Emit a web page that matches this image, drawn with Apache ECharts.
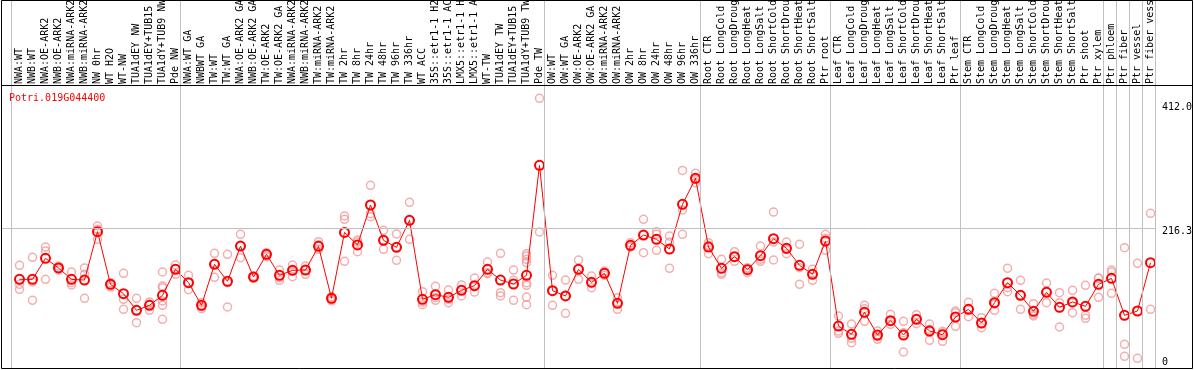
<!DOCTYPE html>
<html>
<head>
<meta charset="utf-8">
<script src="https://cdn.jsdelivr.net/npm/echarts@6/dist/echarts.min.js"></script>
<style>html,body{margin:0;padding:0;background:#fff}#c{width:1194px;height:370px}</style>
</head>
<body>
<div id="c"></div>
<script>
// ---------- data ----------
const geneId = 'Potri.019G044400';

const categories = [
  'NWA:WT','NWB:WT','NWA:OE-ARK2','NWB:OE-ARK2','NWA:miRNA-ARK2','NWB:miRNA-ARK2','NW 0hr','WT H2O','WT-NW','TUA1dEY NW','TUA1dEY+TUB15 NW','TUA1dY+TUB9 NW','Pde NW',
  'NWA:WT GA','NWBWT GA','TW:WT','TW:WT GA','NWA:OE-ARK2 GA','NWB:OE-ARK2 GA','TW:OE-ARK2','TW:OE-ARK2 GA','NWA:miRNA-ARK2 GA','NWB:miRNA-ARK2 GA','TW:miRNA-ARK2','TW:miRNA-ARK2 GA','TW 2hr','TW 8hr','TW 24hr','TW 48hr','TW 96hr','TW 336hr','WT ACC','35S::etr1-1 H2O','35S::etr1-1 ACC','LMX5::etr1-1 H2O','LMX5::etr1-1 ACC','WT-TW','TUA1dEY TW','TUA1dEY+TUB15 TW','TUA1dY+TUB9 TW','Pde TW',
  'OW:WT','OW:WT GA','OW:OE-ARK2','OW:OE-ARK2 GA','OW:miRNA-ARK2','OW:miRNA-ARK2 GA','OW 2hr','OW 8hr','OW 24hr','OW 48hr','OW 96hr','OW 336hr',
  'Root CTR','Root LongCold','Root LongDrought','Root LongHeat','Root LongSalt','Root ShortCold','Root ShortDrought','Root ShortHeat','Root ShortSalt','Ptr root',
  'Leaf CTR','Leaf LongCold','Leaf LongDrought','Leaf LongHeat','Leaf LongSalt','Leaf ShortCold','Leaf ShortDrought','Leaf ShortHeat','Leaf ShortSalt','Ptr leaf',
  'Stem CTR','Stem LongCold','Stem LongDrought','Stem LongHeat','Stem LongSalt','Stem ShortCold','Stem ShortDrought','Stem ShortHeat','Stem ShortSalt','Ptr shoot','Ptr xylem',
  'Ptr phloem','Ptr fiber','Ptr vessel','Ptr fiber vessel'
];

// number of categories in each separated group
const groupSizes = [13, 28, 12, 10, 10, 11, 1, 1, 1, 1];

// mean expression per category
const means = [
  133.7,133.7,167.7,152.1,133.7,132.6,210.8,125.6,110.5,83.6,
  91.7,107.8,149.9,128.3,91.7,158.0,130.5,187.6,137.5,174.2,
  140.2,148.3,148.8,187.1,103.0,209.7,189.3,254.0,196.8,185.5,
  229.2,101.4,108.9,104.6,115.9,123.5,149.9,132.6,126.2,140.2,
  318.1,115.4,106.8,149.9,128.9,143.4,94.9,188.7,205.4,198.4,
  182.8,255.0,297.1,186.0,151.5,170.4,149.4,172.0,199.5,183.9,
  156.4,141.8,195.7,58.2,44.8,80.3,43.7,66.9,43.7,69.0,
  50.1,44.2,72.8,85.2,63.1,96.0,128.3,107.8,82.0,112.7,
  88.4,97.1,90.0,125.6,135.3,75.5,82.5,160.7
];

// replicate values per category
const replicates = [
  [156.4,125.6,117.5],[169.3,129.4,99.8],[186.0,179.6,133.7],[155.3,152.1,148.8],[145.6,128.3,124.6],
  [152.1,141.8,103.0],[220.0,214.6,198.4],[128.3,124.6,121.3],[143.4,101.4,85.2],[103.0,84.1,63.6],
  [97.1,93.3,83.6],[145.6,122.9,120.2,98.7,91.7,69.0],[156.9,151.0,141.8],[140.2,128.3,117.0],[96.0,89.5,86.3],
  [175.8,159.6,137.0],[174.2,128.3,89.0],[206.5,187.6,168.8],[139.1,137.5,135.9],[176.9,172.5,170.4],
  [148.8,136.4,132.1],[156.9,147.2,138.0],[155.3,148.8,141.8],[194.7,189.8,182.2],[105.7,101.4,98.7],
  [236.2,230.8,162.8],[197.3,194.1,178.5],[285.8,239.9,235.1],[213.0,196.8,182.2],[207.1,185.5,164.5],
  [258.3,229.2,198.4],[113.8,97.1,92.7],[122.4,104.1,99.8],[116.5,101.4,96.0],[124.6,115.9,106.8],
  [135.9,121.9,113.2],[161.8,144.5,142.9],[175.8,112.2,106.8],[148.8,132.1,99.8],[175.2,171.5,166.1,160.7,128.3,124.0,105.1,92.7],
  [426.5,210.3],[140.2,115.4,91.7],[132.6,106.8,78.7],[165.0,149.9,133.7],[139.1,128.3,120.2],
  [147.2,144.5,140.2],[104.1,96.0,85.2],[193.0,186.6,186.0],[230.8,205.4,176.9],[210.8,206.5,180.6],
  [203.8,194.1,151.5],[310.0,245.9,206.5],[305.2,295.5,290.1],[193.0,188.7,175.2],[166.1,144.5,141.8],
  [178.5,170.4,162.8],[152.6,151.0,144.5],[187.6,166.1,162.8],[242.6,194.1,165.0],[194.1,182.2,175.2],
  [190.3,152.6,125.6],[149.9,142.9,132.1],[206.5,200.0,180.6],[74.4,50.1,46.4],[61.5,38.3,31.3],
  [91.7,86.3,65.8],[50.1,41.0,36.7],[77.1,66.9,60.9],[65.8,47.4,16.2],[76.6,69.0,62.0],
  [61.5,52.8,35.0],[49.6,47.4,33.4],[82.5,79.8,57.7],[96.5,86.3,73.3],[71.7,62.5,55.5],
  [111.1,93.8,83.6],[151.5,120.2,113.8],[132.1,107.8,85.2],[94.4,77.1,74.4],[127.8,114.8,96.0],
  [112.2,96.0,56.6],[115.9,96.0,79.8],[124.0,75.5,70.6],[135.3,135.9,104.6],[148.8,145.6,111.1],
  [184.9,28.6,9.2],[159.6,5.9],[240.5,85.2]
];

// value-axis tick labels on the right, and which of them get a grid line
const yTickValues = [412.0, 216.3, 0];
const yTickLabels = ['412.0', '216.3', '0'];
const yGridValues = [216.3];

// ---------- layout ----------
const FONT = 'DejaVu Sans Mono';
const CAT_LEFT = 13, CAT_W = 13, PLOT_TOP = 86, ZERO_PX = 362;
const FRAME_LEFT = 2, FRAME_BOTTOM = 369, LINE_RIGHT = 1156;
const Y_MAX = 446.5;
const SEP_SHIFT = -1.5 / CAT_W;
const pxPerUnit = (ZERO_PX - PLOT_TOP) / Y_MAX;
const nCat = categories.length;

const boundaries = [0];
groupSizes.reduce((acc, s) => { boundaries.push(acc + s); return acc + s; }, 0);

const repData = [];
replicates.forEach((arr, i) => arr.forEach(v => repData.push([i, v])));

const furniture = [];
boundaries.forEach(b => furniture.push({
  xAxis: b + SEP_SHIFT,
  lineStyle: { color: '#c0c0c0', width: 1, type: 'solid' },
  label: { show: false }
}));
yTickValues.forEach((v, k) => furniture.push({
  yAxis: v,
  lineStyle: { color: yGridValues.includes(v) ? '#c0c0c0' : 'rgba(0,0,0,0)', width: 1, type: 'solid' },
  label: {
    show: true, position: 'end', distance: 6,
    formatter: yTickLabels[k],
    color: '#000', fontFamily: FONT, fontSize: 10,
    offset: yGridValues.includes(v) ? [0, 3] : [0, 0]
  }
}));

const chart = echarts.init(document.getElementById('c'));
chart.setOption({
  animation: false,
  backgroundColor: '#fff',
  title: {
    text: geneId, left: 9, top: 93, padding: 0,
    textStyle: { color: '#ff0000', fontFamily: FONT, fontSize: 10, fontWeight: 'normal' }
  },
  grid: [
    { left: CAT_LEFT, top: PLOT_TOP, width: nCat * CAT_W, height: ZERO_PX - PLOT_TOP, containLabel: false, outerBoundsMode: 'none' },
    { left: FRAME_LEFT, top: 0, width: LINE_RIGHT - FRAME_LEFT, height: FRAME_BOTTOM, containLabel: false, outerBoundsMode: 'none' }
  ],
  xAxis: [
    {
      gridIndex: 0, type: 'category', data: categories, position: 'top', boundaryGap: true,
      axisLine: { show: false }, axisTick: { show: false }, splitLine: { show: false },
      axisLabel: { interval: 0, rotate: 90, margin: 2, fontFamily: FONT, fontSize: 10, color: '#000' }
    },
    {
      gridIndex: 1, type: 'value', show: false,
      min: (FRAME_LEFT - CAT_LEFT) / CAT_W, max: (LINE_RIGHT - CAT_LEFT) / CAT_W
    }
  ],
  yAxis: [
    { gridIndex: 0, type: 'value', min: 0, max: Y_MAX, show: false },
    { gridIndex: 1, type: 'value', show: false,
      min: -(FRAME_BOTTOM - ZERO_PX) / pxPerUnit, max: ZERO_PX / pxPerUnit }
  ],
  series: [
    {
      type: 'scatter', xAxisIndex: 1, yAxisIndex: 1, data: [], silent: true, z: 1,
      markLine: { silent: true, symbol: ['none', 'none'], animation: false, data: furniture }
    },
    {
      type: 'scatter', xAxisIndex: 0, yAxisIndex: 0, data: repData, silent: true, z: 2,
      symbol: 'circle', symbolSize: 8,
      itemStyle: { color: 'rgba(0,0,0,0)', borderColor: '#f09a9a', borderWidth: 1.5 }
    },
    {
      type: 'line', xAxisIndex: 0, yAxisIndex: 0, data: means, silent: true, z: 3,
      symbol: 'circle', symbolSize: 9, showSymbol: true, showAllSymbol: true,
      itemStyle: { color: 'rgba(255,255,255,0)', borderColor: '#ff0000', borderWidth: 2 },
      lineStyle: { color: '#ff0000', width: 1 }
    }
  ],
  graphic: [
    { type: 'rect', silent: true, z: 100, shape: { x: 1.5, y: 0.5, width: 1191, height: 368 },
      style: { fill: null, stroke: '#000', lineWidth: 1 } },
    { type: 'line', silent: true, z: 100, shape: { x1: 1.5, y1: 85.5, x2: 1192.5, y2: 85.5 },
      style: { stroke: '#000', lineWidth: 1 } }
  ]
});
</script>
</body>
</html>
